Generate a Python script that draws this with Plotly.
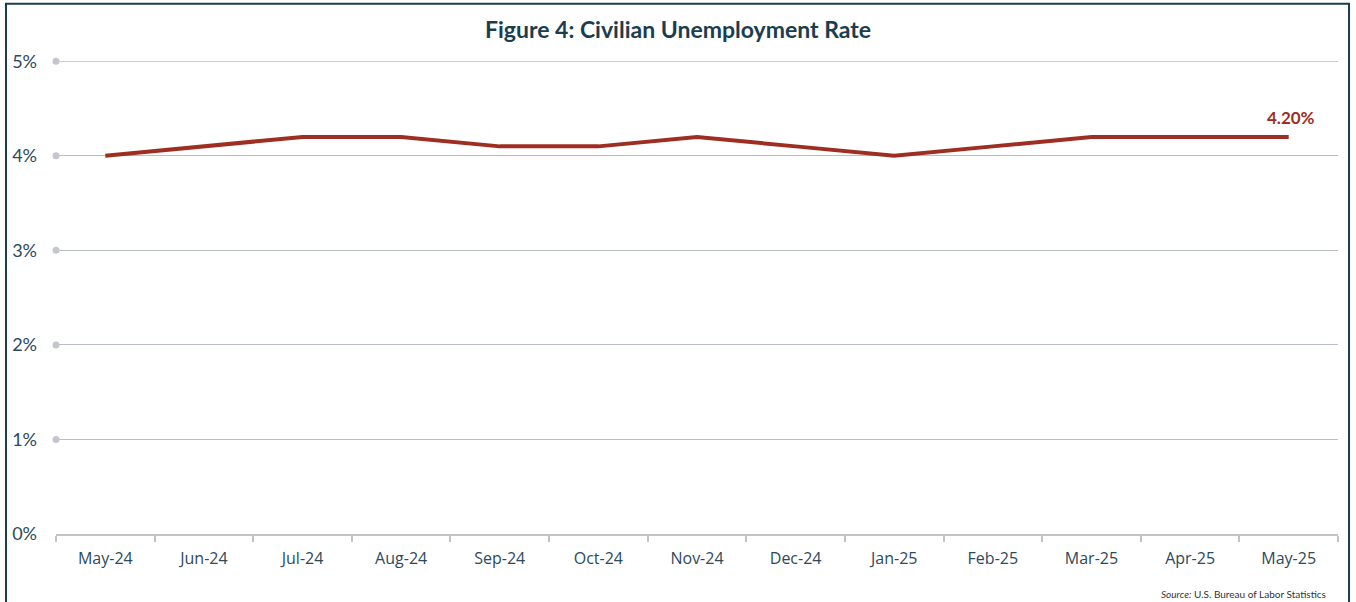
import plotly.graph_objects as go

# Monthly civilian unemployment rate (%)
months = ["May-24", "Jun-24", "Jul-24", "Aug-24", "Sep-24", "Oct-24", "Nov-24",
          "Dec-24", "Jan-25", "Feb-25", "Mar-25", "Apr-25", "May-25"]
rate = [4.0, 4.1, 4.2, 4.2, 4.1, 4.1, 4.2, 4.1, 4.0, 4.1, 4.2, 4.2, 4.2]
y_ticks = [0, 1, 2, 3, 4, 5]
y_tick_labels = ["0%", "1%", "2%", "3%", "4%", "5%"]

LINE_COLOR = "#9f2e22"
NAVY = "#1b3d50"
GRID = "#b9bdc7"
TEXT = "#2c4a5c"

fig = go.Figure()
fig.add_trace(go.Scatter(
    x=months, y=rate, mode="lines",
    line=dict(color=LINE_COLOR, width=4),
    hovertemplate="%{x}: %{y:.1f}%<extra></extra>",
    showlegend=False,
))

# Small dots at the left end of each gridline
fig.add_trace(go.Scatter(
    x=[0] * len(y_ticks[1:]), y=y_ticks[1:], xaxis="x2", mode="markers",
    marker=dict(color="#c3c6cc", size=7), cliponaxis=False,
    hoverinfo="skip", showlegend=False,
))

# Top gridline sits on the plot edge, so draw it explicitly
fig.add_shape(
    type="line", xref="paper", yref="y", x0=0, x1=1, y0=y_ticks[-1], y1=y_ticks[-1],
    line=dict(color=GRID, width=1), layer="below",
)

# Value label for the latest month
fig.add_annotation(
    x=months[-1], y=rate[-1], text=f"<b>{rate[-1]:.2f}%</b>",
    showarrow=False, yshift=19, xshift=2,
    font=dict(family="Source Sans Pro, Lato, sans-serif", size=17, color=LINE_COLOR),
)

# Source note
fig.add_annotation(
    xref="paper", yref="paper", x=0.9925, y=-0.127, xanchor="right", yanchor="middle",
    text="<i>Source:</i> U.S. Bureau of Labor Statistics", showarrow=False,
    font=dict(family="Source Sans Pro, Lato, sans-serif", size=10, color="#333333"),
)

# Frame around the chart
fig.add_shape(
    type="rect", xref="paper", yref="paper",
    x0=-0.039, x1=1.0086, y0=-0.2, y1=1.1208,
    line=dict(color=NAVY, width=2), fillcolor="rgba(0,0,0,0)", layer="below",
)

fig.update_layout(
    width=1356, height=602,
    margin=dict(l=56, r=18, t=61, b=68),
    paper_bgcolor="white", plot_bgcolor="white",
    title=dict(
        text="<b>Figure 4: Civilian Unemployment Rate</b>",
        x=0.5, xanchor="center", y=0.951, yanchor="middle",
        font=dict(family="Source Sans Pro, Lato, sans-serif", size=23, color=NAVY),
    ),
    xaxis=dict(
        type="category", categoryorder="array", categoryarray=months,
        range=[-0.5, len(months) - 0.5],
        tickson="boundaries", ticks="outside", ticklen=6, tickwidth=2, tickcolor="#c3c3c3",
        showline=True, linecolor="#c3c3c3", linewidth=2,
        showgrid=False, zeroline=False, ticklabelstandoff=9,
        tickfont=dict(family="Open Sans, sans-serif", size=16, color=TEXT),
    ),
    xaxis2=dict(overlaying="x", range=[0, 1], visible=False, fixedrange=True),
    yaxis=dict(
        range=[0, 5.003], tickvals=y_ticks, ticktext=y_tick_labels,
        showgrid=True, gridcolor=GRID, gridwidth=1, zeroline=False,
        ticks="", ticklabelstandoff=18,
        tickfont=dict(family="Source Sans Pro, Lato, sans-serif", size=18, color=TEXT),
    ),
)

fig.write_html("out.html")
